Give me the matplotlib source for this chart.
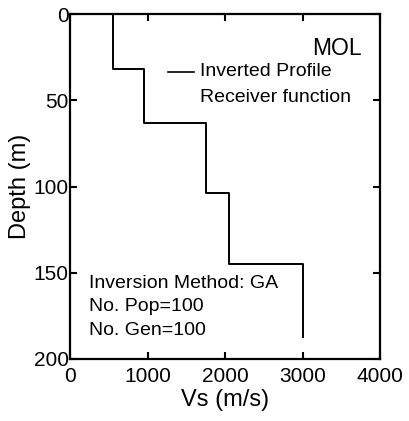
import matplotlib.pyplot as plt

plt.rcParams['font.family'] = ['Liberation Sans', 'DejaVu Sans']

# layered Vs profile (layer velocities and interface depths)
vs = [560, 950, 1750, 2050, 3000]
depth_top = [0, 32, 63, 104, 145]
depth_end = 187

notes = ['Inversion Method: GA', 'No. Pop=100', 'No. Gen=100']

xs = []
ys = []
for i, v in enumerate(vs):
    bottom = depth_top[i + 1] if i + 1 < len(vs) else depth_end
    xs += [v, v]
    ys += [depth_top[i], bottom]

fig = plt.figure(figsize=(4.09, 4.21), dpi=100)
ax = fig.add_axes([70 / 409, 1 - 359 / 421, 310 / 409, 345 / 421])
ax.plot(xs, ys, color='black', linewidth=1.4)

ax.set_xlim(0, 4000)
ax.set_ylim(200, 0)
ax.set_xticks([0, 1000, 2000, 3000, 4000])
ax.set_yticks([0, 50, 100, 150, 200])
ax.tick_params(direction='in', top=True, right=True, length=5, width=1.5,
               labelsize=15, pad=1)
ax.tick_params(axis='x', pad=6)
for s in ax.spines.values():
    s.set_linewidth(1.6)
ax.set_xlabel('Vs (m/s)', fontsize=17, labelpad=2)
ax.set_ylabel('Depth (m)', fontsize=17, labelpad=2)

ax.text(0.86, 0.899, 'MOL', transform=ax.transAxes, fontsize=16.5, ha='center', va='center')
ax.plot([0.315, 0.4], [0.833, 0.833], transform=ax.transAxes, color='black', linewidth=1.2)
ax.text(0.42, 0.832, 'Inverted Profile', transform=ax.transAxes, fontsize=14, va='center')
ax.text(0.42, 0.759, 'Receiver function', transform=ax.transAxes, fontsize=14, va='center')

for k, note in enumerate(notes):
    ax.text(0.06, 0.22 - 0.068 * k, note, transform=ax.transAxes, fontsize=14, va='center')

fig.savefig('out.png', dpi=100)
